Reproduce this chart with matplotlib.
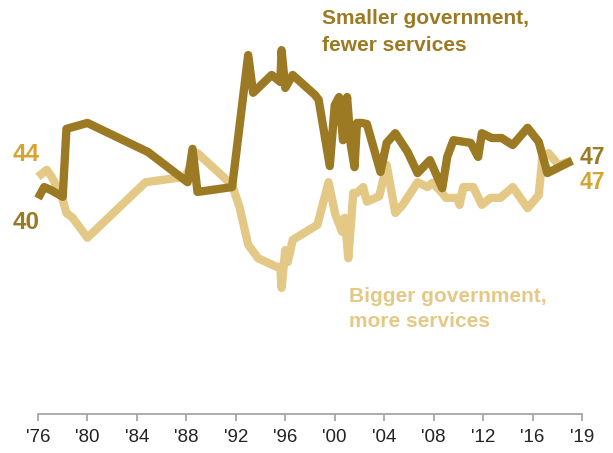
import matplotlib
matplotlib.use("Agg")
import matplotlib.pyplot as plt

# ---- data ----
smaller_years = [1976.0, 1976.5, 1977.0, 1978.0, 1978.3, 1980.0, 1984.9, 1988.1, 1988.5, 1988.9,
                 1991.7, 1993.0, 1993.4, 1994.9, 1995.6, 1995.7, 1996.0, 1996.6, 1998.4, 1998.7,
                 1999.6, 2000.0, 2000.35, 2000.67, 2001.0, 2001.3, 2001.6, 2001.8, 2002.2, 2002.6,
                 2003.7, 2004.2, 2004.9, 2005.9, 2006.7, 2007.7, 2008.7, 2009.1, 2009.6, 2011.0,
                 2011.6, 2011.9, 2012.7, 2013.5, 2014.4, 2015.6, 2016.5, 2017.2, 2019.2]
smaller_vals = [40, 42.1, 41.6, 40.3, 52.9, 54.0, 48.6, 43.0, 49.2, 41.2,
                42.1, 66.6, 59.6, 62.9, 61.6, 67.5, 60.5, 62.9, 59.2, 58.3,
                46.0, 57.3, 58.8, 50.8, 58.8, 49.9, 45.8, 54.0, 54.0, 53.8,
                44.9, 50.3, 52.1, 48.6, 44.7, 47.1, 41.9, 47.7, 50.8, 50.3,
                47.7, 52.1, 51.2, 51.2, 49.9, 53.1, 50.5, 44.7, 47]

bigger_years = [1976.0, 1976.7, 1977.1, 1977.9, 1978.3, 1978.8, 1980.0, 1984.7, 1987.9, 1988.9,
                1991.7, 1992.3, 1993.0, 1993.8, 1995.3, 1995.6, 1995.7, 1996.0, 1996.2, 1996.6,
                1998.6, 1999.5, 2000.05, 2000.6, 2000.8, 2001.1, 2001.5, 2001.8, 2002.3, 2002.6,
                2003.6, 2004.2, 2004.9, 2005.5, 2006.7, 2007.5, 2007.9, 2008.7, 2009.0, 2009.9,
                2010.1, 2010.4, 2011.2, 2011.9, 2012.6, 2013.4, 2014.4, 2015.6, 2016.5, 2016.8,
                2017.3, 2018.1, 2019.2]
bigger_vals = [44, 45.3, 44.0, 40.6, 37.3, 36.4, 32.7, 43.0, 44.0, 48.4,
               42.5, 38.4, 31.4, 28.9, 27.3, 27.3, 23.4, 30.4, 28.2, 32.3,
               35.1, 43.0, 37.0, 33.8, 36.4, 28.9, 41.0, 41.0, 42.1, 39.4,
               40.4, 46.2, 37.3, 38.8, 43.0, 42.1, 42.9, 41.0, 40.1, 40.1,
               38.8, 42.1, 42.1, 38.8, 40.1, 40.1, 42.1, 38.2, 40.6, 47.7,
               48.4, 46.2, 47]

tick_pos = [1976, 1980, 1984, 1988, 1992, 1996, 2000, 2004, 2008, 2012, 2016, 2020]
tick_labels = ["'76", "'80", "'84", "'88", "'92", "'96", "'00", "'04", "'08", "'12", "'16", "'19"]

DARK = "#9C7A23"
LIGHT = "#E3C985"
GOLD = "#D4A530"

plt.rcParams['font.family'] = ['Liberation Sans', 'DejaVu Sans']

fig = plt.figure(figsize=(6.13, 4.53), dpi=100)
ax = fig.add_axes([0, 0, 1, 1])
ax.set_facecolor("none")

ax.plot(bigger_years, bigger_vals, color=LIGHT, lw=6, solid_joinstyle="round",
        solid_capstyle="butt", zorder=2)
ax.plot(smaller_years, smaller_vals, color=DARK, lw=6, solid_joinstyle="round",
        solid_capstyle="butt", zorder=3)

px_per_year = 544 / 44.0
ax.set_xlim(1976 - 38 / px_per_year, 2020 + 31 / px_per_year)
ppu = 5.39
ax.set_ylim(-39 / ppu, 414 / ppu)

for s in ["left", "right", "top"]:
    ax.spines[s].set_visible(False)
ax.spines["bottom"].set_position(("data", 0))
ax.spines["bottom"].set_bounds(1976, 2020)
ax.spines["bottom"].set_color("#A6A6A6")
ax.spines["bottom"].set_linewidth(1.3)
ax.set_yticks([])
ax.set_xticks(tick_pos)
ax.set_xticklabels(tick_labels, fontsize=13.5, color="#222222")
ax.tick_params(axis="x", direction="out", length=5, width=1.3, color="#A6A6A6", pad=6)

# start / end labels
ax.annotate("44", (bigger_years[0], bigger_vals[0]), xytext=(1.5, 16), textcoords="offset points",
            ha="right", va="center", fontsize=17.5, fontweight="bold", color=GOLD)
ax.annotate("40", (smaller_years[0], smaller_vals[0]), xytext=(1.5, -17), textcoords="offset points",
            ha="right", va="center", fontsize=17.5, fontweight="bold", color=DARK)
ax.annotate("47", (smaller_years[-1], smaller_vals[-1]), xytext=(5.5, 2), textcoords="offset points",
            ha="left", va="center", fontsize=16.5, fontweight="bold", color=DARK)
ax.annotate("47", (bigger_years[-1], bigger_vals[-1]), xytext=(5.5, -16), textcoords="offset points",
            ha="left", va="center", fontsize=16.5, fontweight="bold", color=GOLD)

fig.text(322 / 613, 1 - 32 / 453, "Smaller government,\nfewer services", ha="left", va="center",
         fontsize=15, fontweight="bold", color=DARK, linespacing=1.5)
fig.text(349 / 613, 1 - 309 / 453, "Bigger government,\nmore services", ha="left", va="center",
         fontsize=15, fontweight="bold", color=LIGHT, linespacing=1.38)

fig.savefig("out.png", dpi=100)
